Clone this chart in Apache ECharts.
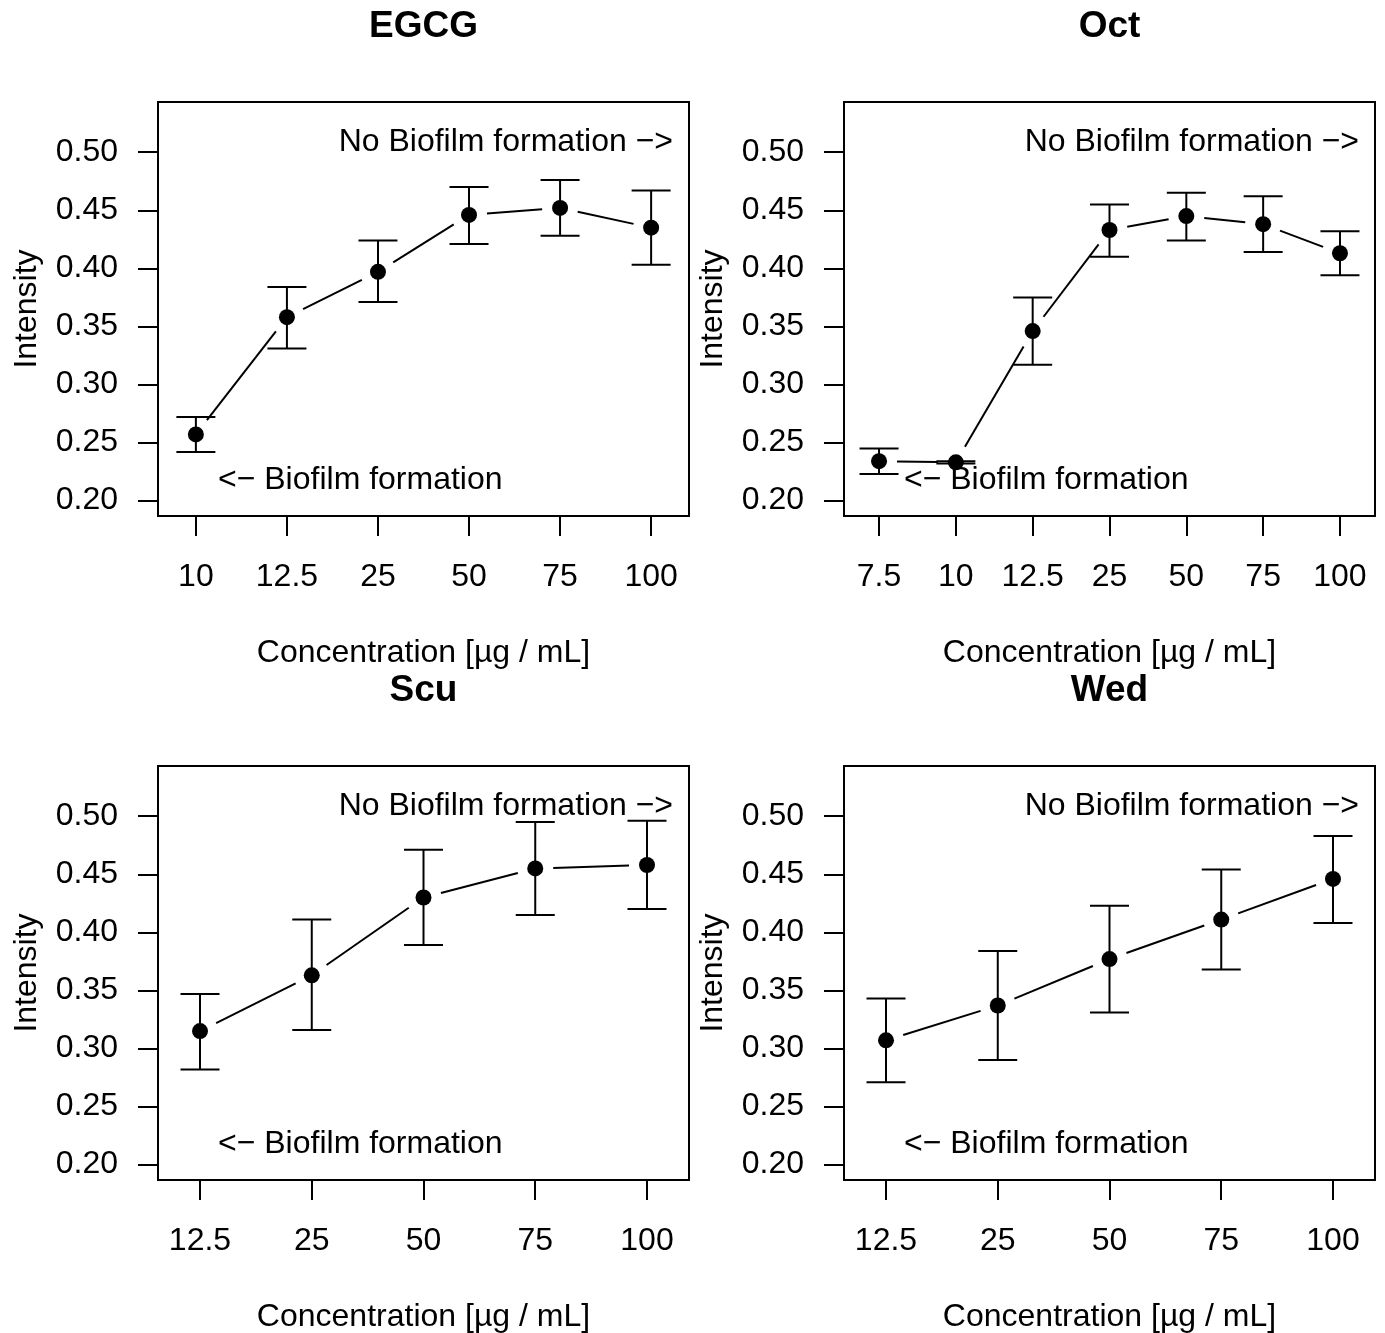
<!DOCTYPE html>
<html>
<head>
<meta charset="utf-8">
<script src="https://cdn.jsdelivr.net/npm/echarts@6/dist/echarts.min.js"></script>
<style>
html,body{margin:0;padding:0;background:#fff;}
#chart{width:1385px;height:1333px;}
</style>
</head>
<body>
<div id="chart"></div>
<script>
// ---- data ----
const panelTitles = ['EGCG', 'Oct', 'Scu', 'Wed'];

const egcgLabels = ['10', '12.5', '25', '50', '75', '100'];
const egcgMean   = [0.257, 0.358, 0.397, 0.446, 0.452, 0.435];
const egcgLower  = [0.242, 0.331, 0.371, 0.421, 0.428, 0.403];
const egcgUpper  = [0.272, 0.384, 0.424, 0.470, 0.476, 0.467];

const octLabels = ['7.5', '10', '12.5', '25', '50', '75', '100'];
const octMean   = [0.234, 0.233, 0.346, 0.433, 0.445, 0.438, 0.413];
const octLower  = [0.223, 0.232, 0.317, 0.410, 0.424, 0.414, 0.394];
const octUpper  = [0.245, 0.234, 0.375, 0.455, 0.465, 0.462, 0.432];

const scuLabels = ['12.5', '25', '50', '75', '100'];
const scuMean   = [0.315, 0.363, 0.430, 0.455, 0.458];
const scuLower  = [0.282, 0.316, 0.389, 0.415, 0.420];
const scuUpper  = [0.347, 0.411, 0.471, 0.495, 0.496];

const wedLabels = ['12.5', '25', '50', '75', '100'];
const wedMean   = [0.307, 0.337, 0.377, 0.411, 0.446];
const wedLower  = [0.271, 0.290, 0.331, 0.368, 0.408];
const wedUpper  = [0.343, 0.384, 0.423, 0.454, 0.483];

const yTicks = [0.20, 0.25, 0.30, 0.35, 0.40, 0.45, 0.50];
const yLim = [0.20, 0.53];

const xAxisTitle = 'Concentration [µg / mL]';
const yAxisTitle = 'Intensity';
const noBiofilmText = 'No Biofilm formation −>';
const biofilmText = '<− Biofilm formation';

// ---- layout ----
const FONT = 'Liberation Sans, Arial, Helvetica, sans-serif';
const FS = 32;
const LW = 2;
const panels = [
  {labels: egcgLabels, mean: egcgMean, lower: egcgLower, upper: egcgUpper, dx: 0,   dy: 0},
  {labels: octLabels,  mean: octMean,  lower: octLower,  upper: octUpper,  dx: 686, dy: 0},
  {labels: scuLabels,  mean: scuMean,  lower: scuLower,  upper: scuUpper,  dx: 0,   dy: 664},
  {labels: wedLabels,  mean: wedMean,  lower: wedLower,  upper: wedUpper,  dx: 686, dy: 664}
];
const BOX = {left: 158, top: 102, width: 531, height: 414};

const grids = [], xAxes = [], yAxes = [], series = [], graphics = [];
const yExt = (yLim[1] - yLim[0]) * 0.04;

panels.forEach((p, k) => {
  const n = p.labels.length;
  const idx = p.labels.map((_, i) => i + 1);
  const xl = [0.8, n + 0.2];
  const xExt = (xl[1] - xl[0]) * 0.04;
  grids.push({
    left: BOX.left + p.dx, top: BOX.top + p.dy, width: BOX.width, height: BOX.height,
    show: true, borderColor: '#000', borderWidth: LW, backgroundColor: 'transparent'
  });
  xAxes.push({
    type: 'value', gridIndex: k, min: xl[0] - xExt, max: xl[1] + xExt,
    axisLine: {show: false}, splitLine: {show: false},
    axisTick: {show: true, customValues: idx, length: 20, lineStyle: {color: '#000', width: LW}},
    axisLabel: {customValues: idx, formatter: v => p.labels[Math.round(v) - 1] || '',
      fontSize: FS, fontFamily: FONT, color: '#000', margin: 45}
  });
  yAxes.push({
    type: 'value', gridIndex: k, min: yLim[0] - yExt, max: yLim[1] + yExt,
    axisLine: {show: false}, splitLine: {show: false},
    axisTick: {show: true, customValues: yTicks, length: 20, lineStyle: {color: '#000', width: LW}},
    axisLabel: {customValues: yTicks, formatter: v => v.toFixed(2),
      fontSize: FS, fontFamily: FONT, color: '#000', margin: 40, padding: [4, 0, 0, 0]}
  });

  // connecting line segments with gaps (type = "b")
  const segs = [];
  for (let i = 0; i < n - 1; i++) segs.push([idx[i], p.mean[i], idx[i + 1], p.mean[i + 1]]);
  series.push({
    type: 'custom', xAxisIndex: k, yAxisIndex: k, silent: true,
    encode: {x: [0, 2], y: [1, 3]},
    data: segs,
    renderItem: (params, api) => {
      const a = api.coord([api.value(0), api.value(1)]);
      const b = api.coord([api.value(2), api.value(3)]);
      const dxp = b[0] - a[0], dyp = b[1] - a[1];
      const len = Math.sqrt(dxp * dxp + dyp * dyp);
      const gap = 18;
      if (len <= 2 * gap) return null;
      const ux = dxp / len, uy = dyp / len;
      return {type: 'line', shape: {x1: a[0] + ux * gap, y1: a[1] + uy * gap, x2: b[0] - ux * gap, y2: b[1] - uy * gap},
        style: {stroke: '#000', lineWidth: LW}};
    }
  });

  // points
  series.push({
    type: 'scatter', xAxisIndex: k, yAxisIndex: k, silent: true,
    symbol: 'circle', symbolSize: 16, itemStyle: {color: '#000', opacity: 1},
    data: idx.map((x, i) => [x, p.mean[i]])
  });

  // error bars
  series.push({
    type: 'custom', xAxisIndex: k, yAxisIndex: k, silent: true,
    encode: {x: 0, y: [1, 2]},
    data: idx.map((x, i) => [x, p.lower[i], p.upper[i]]),
    renderItem: (params, api) => {
      const lo = api.coord([api.value(0), api.value(1)]);
      const hi = api.coord([api.value(0), api.value(2)]);
      const w = 19.5;
      const st = {stroke: '#000', lineWidth: LW};
      return {type: 'group', children: [
        {type: 'line', shape: {x1: lo[0], y1: lo[1], x2: hi[0], y2: hi[1]}, style: st},
        {type: 'line', shape: {x1: lo[0] - w, y1: lo[1], x2: lo[0] + w, y2: lo[1]}, style: st},
        {type: 'line', shape: {x1: hi[0] - w, y1: hi[1], x2: hi[0] + w, y2: hi[1]}, style: st}
      ]};
    }
  });

  const cx = BOX.left + BOX.width / 2 + p.dx;
  graphics.push(
    {type: 'text', x: cx, y: 27 + p.dy, style: {text: panelTitles[k], font: 'bold 37px ' + FONT, fill: '#000', textAlign: 'center', textVerticalAlign: 'middle'}},
    {type: 'text', x: 673 + p.dx, y: 142 + p.dy, style: {text: noBiofilmText, font: FS + 'px ' + FONT, fill: '#000', textAlign: 'right', textVerticalAlign: 'middle'}},
    {type: 'text', x: 218 + p.dx, y: 480 + p.dy, style: {text: biofilmText, font: FS + 'px ' + FONT, fill: '#000', textAlign: 'left', textVerticalAlign: 'middle'}},
    {type: 'text', x: cx, y: 653 + p.dy, style: {text: xAxisTitle, font: FS + 'px ' + FONT, fill: '#000', textAlign: 'center', textVerticalAlign: 'middle'}},
    {type: 'text', x: 27 + p.dx, y: BOX.top + BOX.height / 2 + p.dy, rotation: Math.PI / 2,
      style: {text: yAxisTitle, font: FS + 'px ' + FONT, fill: '#000', textAlign: 'center', textVerticalAlign: 'middle'}}
  );
});

const chart = echarts.init(document.getElementById('chart'), null, {renderer: 'canvas'});
chart.setOption({
  animation: false,
  backgroundColor: '#fff',
  grid: grids, xAxis: xAxes, yAxis: yAxes, series: series,
  graphic: graphics
});
</script>
</body>
</html>
